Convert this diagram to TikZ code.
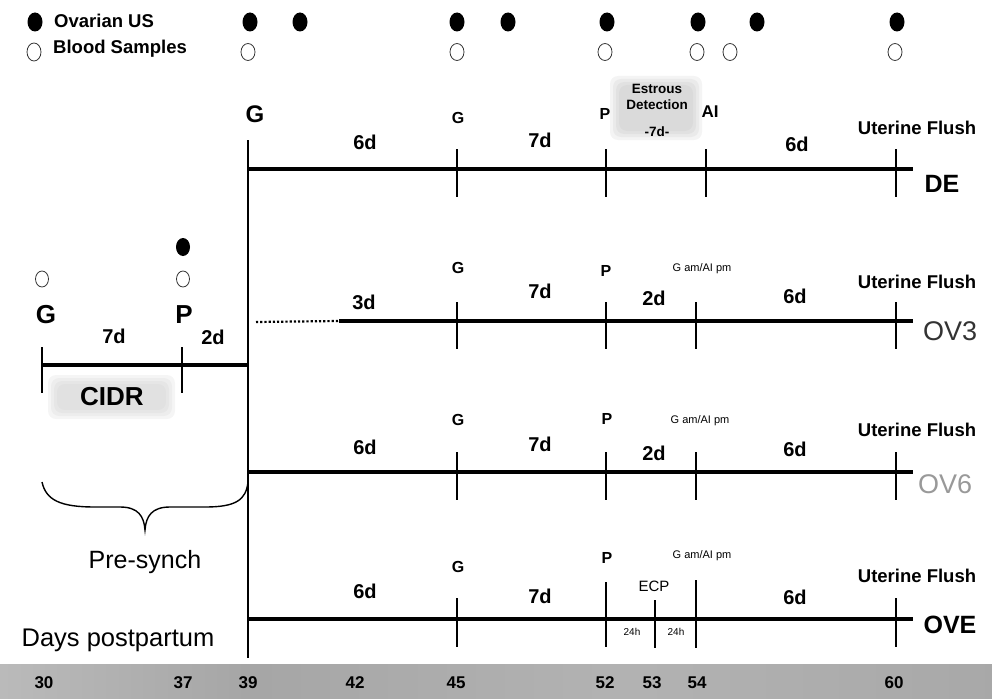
\documentclass[tikz,border=0pt]{standalone}
\usepackage{fontspec}
\setmainfont{Liberation Sans}
\begin{document}
\begin{tikzpicture}[x=1pt,y=-1pt,
  tl/.style={line width=4pt},
  tk/.style={line width=2pt},
  vl/.style={line width=2.6pt},
  bt/.style={font=\fontsize{#1}{#1}\selectfont\bfseries, inner sep=0pt},
  rt/.style={font=\fontsize{#1}{#1}\selectfont, inner sep=0pt},
  fdot/.style={fill=black},
  odot/.style={draw=black!80, line width=0.8pt},
  fuzz/.style={fill=black!30, fill opacity=0.15, rounded corners=8pt}
]
\useasboundingbox (0,0) rectangle (992,698);

% ---------- soft background boxes ----------
\foreach \d in {0,3,6,9}
  \fill[fuzz] (610+\d,76+\d) rectangle (702-\d,140-\d);
\foreach \d in {0,3,6,9}
  \fill[fuzz, fill=black!25] (48+\d,375+\d) rectangle (175-\d,419-\d);
\shade[left color=black!27, right color=black!35] (0,664) rectangle (250,698);
\shade[left color=black!35, right color=black!30] (250,664) rectangle (620,698);
\shade[left color=black!30, right color=black!34] (620,664) rectangle (992,698);

% ---------- legend ----------
\fill[fdot] (35,22) ellipse [x radius=7.5, y radius=9.5];
\node[bt=18.5, anchor=west] (lgUS) at (54,21) {Ovarian US};
\draw[odot] (34,52) ellipse [x radius=7, y radius=9];
\node[bt=18.5, anchor=west] (lgBS) at (53,49) {Blood Samples};

% ---------- sampling marks ----------
\foreach \x in {250,300,457,508,607,698,757,897}
  \fill[fdot] (\x,22) ellipse [x radius=7.5, y radius=9.5];
\foreach \x in {248,457,605,697,730,895}
  \draw[odot] (\x,52) ellipse [x radius=7, y radius=8.5];
\fill[fdot] (183,247) ellipse [x radius=7, y radius=9];
\draw[odot] (42,279) ellipse [x radius=6.5, y radius=8];
\draw[odot] (183,279) ellipse [x radius=6.5, y radius=8];

% ---------- main vertical line ----------
\coordinate (vtop) at (248,140);
\coordinate (vbot) at (248,658);
\draw[vl] (vtop) -- (vbot);

% ---------- pre-synch ----------
\coordinate (psA) at (42,365);
\coordinate (psB) at (248,365);
\draw[tl] (psA) -- (psB);
\draw[tk] (42,347) -- (42,393);
\draw[tk] (182,347) -- (182,393);
\node[bt=26] (psG) at (46,315) {G};
\node[bt=26] (psP) at (184,315) {P};
\node[bt=20] (ps7) at (114,336) {7d};
\node[bt=20] (ps2) at (213,337) {2d};
\node[bt=26] (cidr) at (112,397) {CIDR};
\draw[line width=1.4pt] (42,482) .. controls (46,500) and (60,507) .. (95,507)
  -- (120,507) .. controls (138,507) and (144,516) .. (145,530)
  .. controls (146,516) and (152,507) .. (170,507)
  -- (205,507) .. controls (236,507) and (246,500) .. (248,482);
\node[rt=25] (presynch) at (145,562) {Pre-synch};
\node[rt=25.5] (dpp) at (118,640) {Days postpartum};

% ---------- DE ----------
\coordinate (deA) at (248,169);
\coordinate (deB) at (913,169);
\draw[tl] (deA) -- (deB);
\foreach \x in {457,606,706,896} \draw[tk] (\x,149) -- (\x,197);
\node[bt=24] (deG0) at (255,114) {G};
\node[bt=20] (de6a) at (365,142) {6d};
\node[bt=16] (deG) at (458,118) {G};
\node[bt=20] (de7) at (540,140) {7d};
\node[bt=16] (deP) at (605,114) {P};
\node[bt=13.5, align=center] (edet) at (657,97) {Estrous\\[2pt]Detection};
\node[bt=13.5] (de7d) at (657,132) {-7d-};
\node[bt=17] (deAI) at (710,112) {AI};
\node[bt=20] (de6b) at (797,144) {6d};
\node[bt=18.5] (deUF) at (917,128) {Uterine Flush};
\node[bt=25] (deLab) at (942,184) {DE};

% ---------- OV3 ----------
\coordinate (o3dot) at (256,322);
\coordinate (o3A) at (339,321);
\coordinate (o3B) at (913,321);
\draw[line width=2.2pt, dotted] (o3dot) -- (o3A);
\draw[tl] (o3A) -- (o3B);
\foreach \x in {457,606,696,896} \draw[tk] (\x,302) -- (\x,349);
\node[bt=20] (o33) at (364,302) {3d};
\node[bt=16] (o3G) at (458,268) {G};
\node[bt=20] (o37) at (540,291) {7d};
\node[bt=16] (o3P) at (606,271) {P};
\node[rt=11] (o3g) at (702,269) {G am/AI pm};
\node[bt=20] (o32) at (654,298) {2d};
\node[bt=20] (o36) at (795,296) {6d};
\node[bt=18.5] (o3UF) at (917,282) {Uterine Flush};
\node[rt=27, text=black!80] (o3Lab) at (950,331) {OV3};

% ---------- OV6 ----------
\coordinate (o6A) at (248,472);
\coordinate (o6B) at (913,472);
\draw[tl] (o6A) -- (o6B);
\foreach \x in {457,606,696,896} \draw[tk] (\x,452) -- (\x,500);
\node[bt=20] (o66a) at (365,447) {6d};
\node[bt=16] (o6G) at (458,420) {G};
\node[bt=20] (o67) at (540,444) {7d};
\node[bt=16] (o6P) at (607,419) {P};
\node[rt=11] (o6g) at (700,421) {G am/AI pm};
\node[bt=20] (o62) at (654,453) {2d};
\node[bt=20] (o66b) at (795,449) {6d};
\node[bt=18.5] (o6UF) at (917,430) {Uterine Flush};
\node[rt=27, text=black!40] (o6Lab) at (945,484) {OV6};

% ---------- OVE ----------
\coordinate (oeA) at (248,619);
\coordinate (oeB) at (913,619);
\draw[tl] (oeA) -- (oeB);
\draw[tk] (457,598) -- (457,647);
\draw[tk] (606,582) -- (606,647);
\draw[tk] (655,600) -- (655,648);
\draw[tk] (696,580) -- (696,648);
\draw[tk] (896,598) -- (896,647);
\node[bt=20] (oe6a) at (365,591) {6d};
\node[bt=16] (oeG) at (458,567) {G};
\node[bt=20] (oe7) at (540,596) {7d};
\node[bt=16] (oeP) at (607,558) {P};
\node[rt=11] (oeg) at (702,556) {G am/AI pm};
\node[rt=15] (ecp) at (654,586) {ECP};
\node[rt=10] (h1) at (632,632) {24h};
\node[rt=10] (h2) at (676,632) {24h};
\node[bt=20] (oe6b) at (795,597) {6d};
\node[bt=18.5] (oeUF) at (917,576) {Uterine Flush};
\node[bt=25] (oeLab) at (950,625) {OVE};

% ---------- day axis ----------
\foreach \x/\d in {44/30,183/37,248/39,355/42,456/45,605/52,652/53,697/54,894/60}
  \node[bt=17] (day\d) at (\x,683) {\d};
\end{tikzpicture}
\end{document}
